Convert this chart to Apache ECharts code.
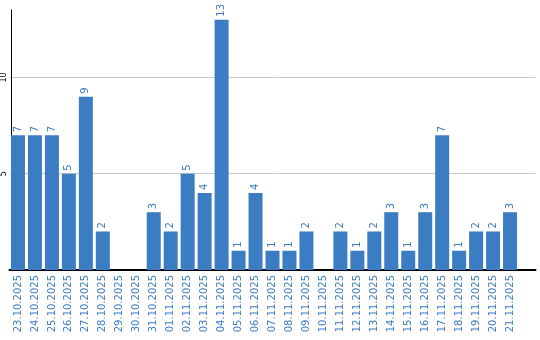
<!DOCTYPE html>
<html><head><meta charset="utf-8">
<script src="https://cdn.jsdelivr.net/npm/echarts@6/dist/echarts.min.js"></script>
<style>html,body{margin:0;padding:0;background:#fff}#c{width:540px;height:340px}</style>
</head><body><div id="c"></div>
<script>
var categories = ['23.10.2025','24.10.2025','25.10.2025','26.10.2025','27.10.2025','28.10.2025','29.10.2025','30.10.2025','31.10.2025','01.11.2025','02.11.2025','03.11.2025','04.11.2025','05.11.2025','06.11.2025','07.11.2025','08.11.2025','09.11.2025','10.11.2025','11.11.2025','12.11.2025','13.11.2025','14.11.2025','15.11.2025','16.11.2025','17.11.2025','18.11.2025','19.11.2025','20.11.2025','21.11.2025'];
var values = [7,7,7,5,9,2,0,0,3,2,5,4,13,1,4,1,1,2,0,2,1,2,3,1,3,7,1,2,2,3];
var yTicks = [5,10];

var cats = categories.concat(['']);
var data = values.map(function(v){ return v === 0 ? null : v; });
var chart = echarts.init(document.getElementById('c'));
chart.setOption({
  animation:false,
  grid:{left:8.5, top:10, width:527, bottom:70, containLabel:false},
  xAxis:{
    type:'category', data:cats,
    axisLine:{show:true, lineStyle:{color:'#000', width:2}},
    axisTick:{show:false},
    axisLabel:{rotate:90, interval:0, color:'#3d7cc4', fontFamily:'DejaVu Sans', fontSize:10, margin:5}
  },
  yAxis:{
    type:'value', min:0, max:13.5, interval:5, offset:-1.5,
    axisLine:{show:true, lineStyle:{color:'#000', width:1}},
    axisTick:{show:false},
    splitLine:{show:true, showMinLine:false, showMaxLine:false, lineStyle:{color:'#c8c8c8', width:1}},
    axisLabel:{rotate:90, color:'#000', fontFamily:'DejaVu Sans', fontSize:8, margin:3,
      formatter:function(v){ return yTicks.indexOf(v) >= 0 ? String(v) : ''; }}
  },
  series:[{
    type:'bar', data:data, barWidth:14,
    itemStyle:{color:'#3b7dc2'},
    label:{show:true, position:'top', rotate:90, align:'left', verticalAlign:'middle', distance:3,
      color:'#3d7cc4', fontFamily:'DejaVu Sans', fontSize:10}
  }]
});
</script></body></html>
